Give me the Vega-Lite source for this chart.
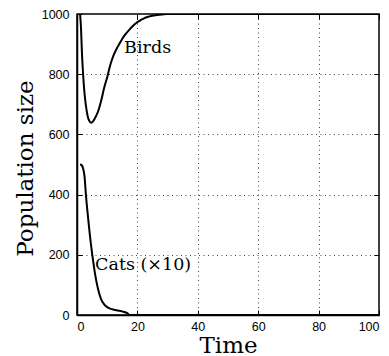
{
  "$schema": "https://vega.github.io/schema/vega-lite/v6.json",
  "width": 302,
  "height": 301,
  "autosize": {"type": "none"},
  "padding": {"left": 77, "top": 14, "right": 10, "bottom": 41},
  "background": "white",
  "config": {
    "view": {"stroke": "black", "strokeWidth": 1.5},
    "axis": {
      "labelFont": "Liberation Sans",
      "labelFontSize": 12.5,
      "labelColor": "black",
      "titleFont": "DejaVu Serif",
      "titleFontSize": 23,
      "titleFontWeight": "normal",
      "titleColor": "black",
      "domainColor": "black",
      "domainWidth": 1.5,
      "tickColor": "black",
      "tickWidth": 1,
      "tickSize": -5,
      "gridColor": "#444",
      "gridDash": [1, 3.5],
      "gridWidth": 1,
      "gridOpacity": 1
    }
  },
  "layer": [
    {
      "data": {
        "values": [
          {"series": "Birds", "t": 1, "v": 1000},
          {"series": "Birds", "t": 1.3, "v": 960},
          {"series": "Birds", "t": 1.6, "v": 880},
          {"series": "Birds", "t": 2, "v": 803},
          {"series": "Birds", "t": 2.5, "v": 735},
          {"series": "Birds", "t": 3, "v": 692},
          {"series": "Birds", "t": 3.5, "v": 662},
          {"series": "Birds", "t": 4, "v": 646},
          {"series": "Birds", "t": 4.7, "v": 639},
          {"series": "Birds", "t": 5.3, "v": 643},
          {"series": "Birds", "t": 6, "v": 655},
          {"series": "Birds", "t": 7, "v": 677},
          {"series": "Birds", "t": 8, "v": 712},
          {"series": "Birds", "t": 9, "v": 755},
          {"series": "Birds", "t": 10, "v": 790},
          {"series": "Birds", "t": 11, "v": 830},
          {"series": "Birds", "t": 12, "v": 860},
          {"series": "Birds", "t": 13, "v": 882},
          {"series": "Birds", "t": 14, "v": 900},
          {"series": "Birds", "t": 15, "v": 918},
          {"series": "Birds", "t": 16, "v": 932},
          {"series": "Birds", "t": 17, "v": 944},
          {"series": "Birds", "t": 18, "v": 955},
          {"series": "Birds", "t": 19, "v": 965},
          {"series": "Birds", "t": 20, "v": 973},
          {"series": "Birds", "t": 21, "v": 979},
          {"series": "Birds", "t": 22, "v": 985},
          {"series": "Birds", "t": 24, "v": 992},
          {"series": "Birds", "t": 26, "v": 996},
          {"series": "Birds", "t": 28, "v": 998},
          {"series": "Birds", "t": 30, "v": 1000},
          {"series": "Birds", "t": 100, "v": 1000},
          {"series": "Cats", "t": 1, "v": 500},
          {"series": "Cats", "t": 1.5, "v": 498},
          {"series": "Cats", "t": 2, "v": 488},
          {"series": "Cats", "t": 2.5, "v": 460},
          {"series": "Cats", "t": 3, "v": 393},
          {"series": "Cats", "t": 3.5, "v": 340},
          {"series": "Cats", "t": 4, "v": 290},
          {"series": "Cats", "t": 4.5, "v": 245},
          {"series": "Cats", "t": 5, "v": 205},
          {"series": "Cats", "t": 5.5, "v": 168},
          {"series": "Cats", "t": 6, "v": 135},
          {"series": "Cats", "t": 7, "v": 85},
          {"series": "Cats", "t": 8, "v": 52},
          {"series": "Cats", "t": 9, "v": 35},
          {"series": "Cats", "t": 10, "v": 26},
          {"series": "Cats", "t": 11, "v": 21},
          {"series": "Cats", "t": 12, "v": 18},
          {"series": "Cats", "t": 13, "v": 16},
          {"series": "Cats", "t": 14, "v": 14},
          {"series": "Cats", "t": 15, "v": 12},
          {"series": "Cats", "t": 16, "v": 9},
          {"series": "Cats", "t": 16.8, "v": 5},
          {"series": "Cats", "t": 17.3, "v": 0},
          {"series": "Cats", "t": 100, "v": 0}
        ]
      },
      "mark": {"type": "line", "color": "black", "strokeWidth": 2, "interpolate": "monotone", "clip": true},
      "encoding": {
        "x": {
          "field": "t", "type": "quantitative",
          "scale": {"domain": [0, 100], "nice": false},
          "axis": {"orient": "bottom", "title": "Time", "format": "d", "values": [0, 20, 40, 60, 80, 100], "grid": true, "labelPadding": 10, "titleY": 37, "titleBaseline": "alphabetic"}
        },
        "y": {
          "field": "v", "type": "quantitative",
          "scale": {"domain": [0, 1000], "nice": false},
          "axis": {"orient": "left", "title": "Population size", "format": "d", "values": [0, 200, 400, 600, 800, 1000], "grid": true, "labelPadding": 13, "titleX": -45, "titleY": 154, "titleAlign": "center", "titleBaseline": "alphabetic", "titleAngle": -90}
        },
        "detail": {"field": "series"}
      }
    },
    {
      "data": {
        "values": [
          {"label": "Birds", "t": 15.6, "v": 869},
          {"label": "Cats (×10)", "t": 6.0, "v": 150}
        ]
      },
      "mark": {"type": "text", "font": "DejaVu Serif", "fontSize": 17.5, "align": "left", "baseline": "alphabetic", "color": "black"},
      "encoding": {
        "x": {
          "field": "t", "type": "quantitative",
          "axis": {"orient": "top", "title": null, "labels": false, "domain": false, "grid": false, "values": [0, 20, 40, 60, 80, 100]}
        },
        "y": {
          "field": "v", "type": "quantitative",
          "axis": {"orient": "right", "title": null, "labels": false, "domain": false, "grid": false, "values": [0, 200, 400, 600, 800, 1000]}
        },
        "text": {"field": "label"}
      }
    }
  ],
  "resolve": {"axis": {"x": "independent", "y": "independent"}}
}
